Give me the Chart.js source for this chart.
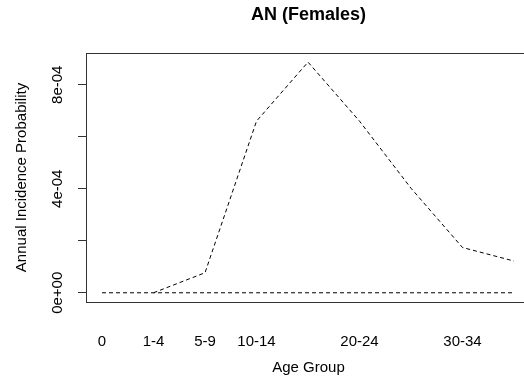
<!DOCTYPE html>
<html>
<head>
<meta charset="utf-8">
<script src="https://cdn.jsdelivr.net/npm/chart.js@4"></script>
<style>
  html, body { margin: 0; padding: 0; background: #fff; overflow: hidden; width: 524px; height: 383px; }
</style>
</head>
<body>
<canvas id="grafico" width="531" height="383"></canvas>
<script>
// age groups sit at positions 1..9 on the x axis
const ageGroups = ['0', '1-4', '5-9', '10-14', '15-19', '20-24', '25-29', '30-34', '35-39'];
const shownLabels = ['0', '1-4', '5-9', '10-14', '20-24', '30-34'];
const incidence = [null, 0, 0.000077, 0.00066, 0.000887, 0.00066, 0.000402, 0.000174, 0.000122];
const baseline = [0, 0, 0, 0, 0, 0, 0, 0, 0];
const yLabels = { 0: '0e+00', 0.0004: '4e-04', 0.0008: '8e-04' };

const fonte = 'Liberation Sans, Arial, sans-serif';

function pontos(valores) {
    return valores.map((v, i) => ({ x: i + 1, y: v }));
}

// top and right edges of the plot box
const moldura = {
    id: 'moldura',
    afterDraw(chart) {
        const { ctx, chartArea } = chart;
        ctx.save();
        ctx.strokeStyle = '#333';
        ctx.lineWidth = 1;
        ctx.beginPath();
        ctx.moveTo(chartArea.left, chartArea.top + 0.5);
        ctx.lineTo(chartArea.right - 0.5, chartArea.top + 0.5);
        ctx.lineTo(chartArea.right - 0.5, chartArea.bottom);
        ctx.stroke();
        ctx.restore();
    }
};

new Chart(document.getElementById('grafico'), {
    type: 'line',
    data: {
        datasets: [{
            data: pontos(baseline),
            borderColor: '#000',
            borderWidth: 1,
            borderDash: [4, 3],
            pointRadius: 0
        }, {
            data: pontos(incidence),
            borderColor: '#000',
            borderWidth: 1,
            borderDash: [4, 3],
            pointRadius: 0,
            spanGaps: false
        }]
    },
    options: {
        responsive: false,
        animation: false,
        layout: { padding: 0 },
        plugins: {
            legend: { display: false },
            tooltip: { enabled: false },
            title: {
                display: true,
                text: 'AN (Females)',
                color: '#000',
                fullSize: false,
                font: { family: fonte, size: 18, weight: 'bold', lineHeight: 1.2 },
                padding: { top: 4, bottom: 27.4 }
            }
        },
        scales: {
            x: {
                type: 'linear',
                min: 0.689,
                max: 9.33,
                afterFit: s => {
                    s.height = 81;
                    s.paddingLeft = 0;
                    s.paddingRight = 0;
                },
                grid: { display: true, drawOnChartArea: false, drawTicks: false },
                border: { color: '#333', width: 1 },
                ticks: {
                    stepSize: 1,
                    includeBounds: false,
                    autoSkip: false,
                    maxRotation: 0,
                    padding: 31,
                    color: '#000',
                    font: { family: fonte, size: 15 },
                    callback: v => {
                        const g = ageGroups[v - 1];
                        return shownLabels.includes(g) ? g : '';
                    }
                },
                title: {
                    display: true,
                    text: 'Age Group',
                    color: '#000',
                    font: { family: fonte, size: 15, lineHeight: 1.2 },
                    padding: { top: 0, bottom: 6 }
                }
            },
            y: {
                min: -0.0000355,
                max: 0.000922,
                afterFit: s => { s.width = 86; },
                grid: { drawOnChartArea: false, drawTicks: true, tickLength: 8, tickColor: '#333' },
                border: { color: '#333', width: 1 },
                ticks: {
                    stepSize: 0.0002,
                    includeBounds: false,
                    autoSkip: false,
                    minRotation: 90,
                    maxRotation: 90,
                    crossAlign: 'center',
                    padding: -1,
                    color: '#000',
                    font: { family: fonte, size: 15 },
                    callback: v => yLabels[Math.round(v * 1e5) / 1e5] || ''
                },
                title: {
                    display: true,
                    text: 'Annual Incidence Probability',
                    color: '#000',
                    font: { family: fonte, size: 15, lineHeight: 1.2 },
                    padding: { top: 12.7, bottom: 0 }
                }
            }
        }
    },
    plugins: [moldura]
});
</script>
</body>
</html>
